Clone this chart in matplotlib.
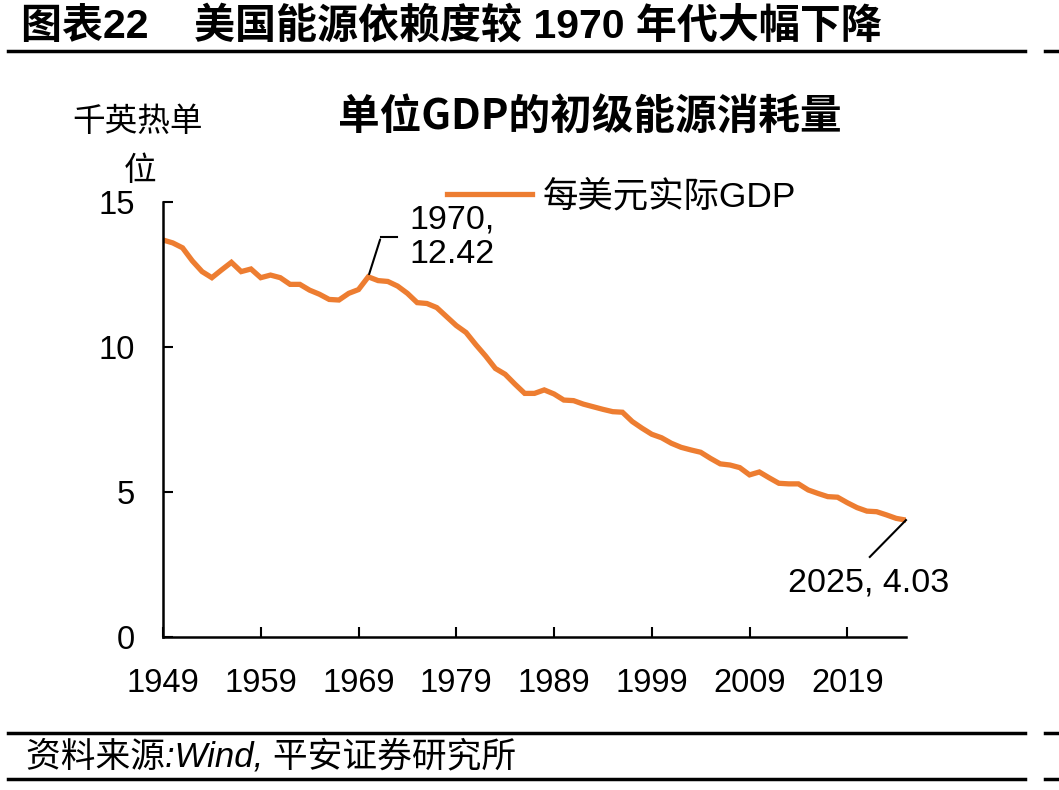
import matplotlib.pyplot as plt
import numpy as np

plt.rcParams['font.family'] = ['Liberation Sans', 'Noto Sans CJK SC', 'DejaVu Sans']

years = list(range(1949, 2026))
energy = [13.69, 13.59, 13.42, 12.97, 12.60, 12.39, 12.66, 12.92, 12.60, 12.69,
          12.39, 12.48, 12.39, 12.16, 12.16, 11.96, 11.82, 11.64, 11.62, 11.85,
          11.98, 12.42, 12.29, 12.26, 12.10, 11.85, 11.53, 11.50, 11.36, 11.05,
          10.74, 10.50, 10.08, 9.69, 9.26, 9.06, 8.72, 8.40, 8.40, 8.52,
          8.38, 8.17, 8.15, 8.03, 7.94, 7.85, 7.77, 7.75, 7.43, 7.20,
          6.99, 6.87, 6.68, 6.54, 6.45, 6.37, 6.16, 5.97, 5.93, 5.84,
          5.59, 5.69, 5.49, 5.30, 5.28, 5.28, 5.07, 4.95, 4.84, 4.82,
          4.63, 4.46, 4.34, 4.32, 4.21, 4.09, 4.03]
xticks = [1949, 1959, 1969, 1979, 1989, 1999, 2009, 2019]
yticks = [0, 5, 10, 15]

fig = plt.figure(figsize=(10.59, 7.9), dpi=100)
ax = fig.add_axes([0.1539, 0.1937, 0.7016, 0.5506])

orange = '#ED7D31'
ax.plot(years, energy, color=orange, linewidth=3.8, solid_joinstyle='miter',
        label='每美元实际GDP')

ax.set_xlim(1949, 2025)
ax.set_ylim(0, 15)
ax.set_xticks(xticks)
ax.set_yticks(yticks)
ax.tick_params(direction='in', length=7, width=1.5, labelsize=23.5)
ax.tick_params(axis='x', pad=22)
ax.tick_params(axis='y', pad=20)
for s in ['top', 'right']:
    ax.spines[s].set_visible(False)
for s in ['left', 'bottom']:
    ax.spines[s].set_linewidth(1.8)

# annotations
i70 = years.index(1970)
ax.annotate('', xy=(1970, energy[i70]), xytext=(1971.3, 13.8),
            arrowprops=dict(arrowstyle='-', color='black', lw=1.5))
ax.plot([1971.3, 1972.9], [13.8, 13.8], color='black', lw=1.5, clip_on=False)
ax.text(1974.2, 13.8, '1970,\n12.42', fontsize=24.5, ha='left', va='center',
        linespacing=1.15)

ax.plot([2025, 2021.3], [energy[-1], 2.76], color='black', lw=1.5, clip_on=False)
ax.text(2021.2, 1.86, '2025, 4.03', fontsize=24.5, ha='center', va='center')

leg = ax.legend(loc='upper left', bbox_to_anchor=(0.34, 1.125), frameon=False,
                fontsize=25.5, handlelength=2.4, handletextpad=0.3)

fig.text(0.557, 0.852, '单位GDP的初级能源消耗量', fontsize=30, fontweight='bold',
         ha='center', va='center', family=['Noto Sans CJK SC'])
fig.text(0.130, 0.846, '千英热单', fontsize=23.5, ha='center', va='center',
         family=['Noto Sans CJK SC'])
fig.text(0.132, 0.784, '位', fontsize=23.5, ha='center', va='center',
         family=['Noto Sans CJK SC'])

fig.text(0.02, 0.967, '图表22    美国能源依赖度较 1970 年代大幅下降', fontsize=29.5,
         fontweight='bold', ha='left', va='center',
         family=['Liberation Sans', 'Noto Sans CJK SC'])
fig.text(0.025, 0.042, '资料来源:Wind, 平安证券研究所', fontsize=25, style='italic',
         ha='left', va='center', family=['Liberation Sans', 'Noto Sans CJK SC'])

for yy in [0.935, 0.072, 0.014]:
    fig.add_artist(plt.Line2D([0.008, 0.968], [yy, yy], color='black', lw=2.5))
    fig.add_artist(plt.Line2D([0.987, 1.0], [yy, yy], color='black', lw=2.5))

fig.savefig('out.png', dpi=100)
